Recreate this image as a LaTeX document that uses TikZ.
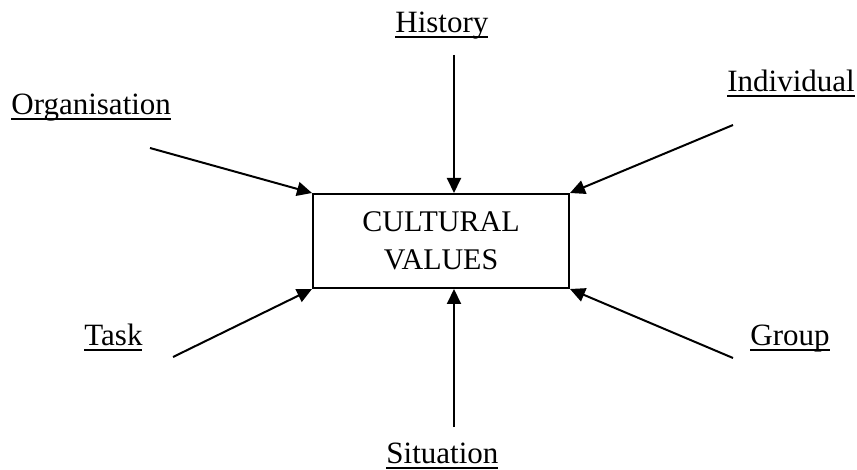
\documentclass[tikz,border=0pt]{standalone}
\usepackage{fontspec}
\setmainfont{Liberation Serif}
\usetikzlibrary{arrows.meta}
% underlined label with a rule at a fixed depth below the baseline
\newcommand\ulabel[1]{\setbox0=\hbox{#1}\rlap{\rule[-2.75pt]{\wd0}{1pt}}\box0}
\begin{document}
\begin{tikzpicture}[x=0.5pt,y=-0.5pt,
  lbl/.style={inner sep=0pt,anchor=base west,font=\fontsize{15.5pt}{18pt}\selectfont},
  valuebox/.style={draw,line width=1pt,minimum width=128pt,minimum height=47pt,
    inner sep=0pt,align=center,font=\fontsize{15pt}{19pt}\selectfont},
  arr/.style={line width=1pt,-{Triangle[length=7.5pt,width=7pt]}}]
\useasboundingbox (0,0) rectangle (857,470);

\node[valuebox] (box) at (441,241) {CULTURAL\\VALUES};

\node[lbl] (org) at (11,115) {\ulabel{Organisation}};
\node[lbl] (hist) at (395,33) {\ulabel{History}};
\node[lbl] (ind) at (727,92) {\ulabel{Individual}};
\node[lbl] (task) at (84,345) {\ulabel{Task}};
\node[lbl] (grp) at (750,345) {\ulabel{Group}};
\node[lbl] (sit) at (386,463) {\ulabel{Situation}};

\coordinate (o1) at (150,148);
\coordinate (h1) at (454,55);
\coordinate (i1) at (733,125);
\coordinate (t1) at (173,357);
\coordinate (g1) at (733,358);
\coordinate (s1) at (454,427);

\draw[arr] (o1) -- (box.north west);
\draw[arr] (h1) -- (h1 |- box.north);
\draw[arr] (i1) -- (box.north east);
\draw[arr] (t1) -- (box.south west);
\draw[arr] (g1) -- (box.south east);
\draw[arr] (s1) -- (s1 |- box.south);
\end{tikzpicture}
\end{document}
